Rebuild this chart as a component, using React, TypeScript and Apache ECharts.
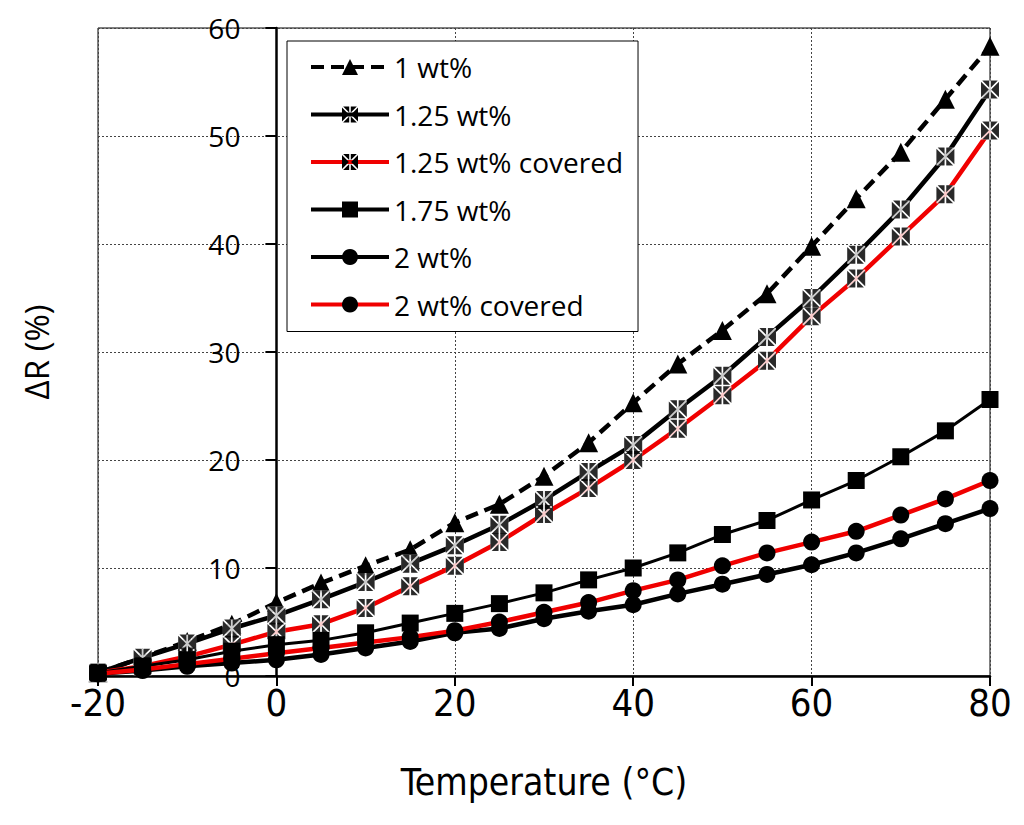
import React, { useRef, useEffect } from "react";
import * as echarts from "echarts";

// 温度 (°C)
const temps = [-20, -15, -10, -5, 0, 5, 10, 15, 20, 25, 30, 35, 40, 45, 50, 55, 60, 65, 70, 75, 80];

// ΔR (%) per series
const wt1 = [0.3, 1.7, 3.2, 4.8, 6.8, 8.6, 10.2, 11.7, 14.2, 15.9, 18.5, 21.6, 25.3, 28.9, 32.0, 35.4, 39.8, 44.2, 48.5, 53.4, 58.3];
const wt125 = [0.3, 1.7, 3.0, 4.4, 5.6, 7.1, 8.7, 10.4, 12.1, 14.0, 16.3, 18.9, 21.4, 24.7, 27.8, 31.4, 35.0, 39.0, 43.2, 48.1, 54.3];
const wt125Covered = [0.3, 0.9, 1.8, 2.9, 4.1, 4.8, 6.3, 8.3, 10.2, 12.4, 15.0, 17.4, 20.0, 22.9, 26.0, 29.2, 33.3, 36.8, 40.7, 44.6, 50.5];
const wt175 = [0.3, 0.9, 1.5, 2.3, 2.9, 3.3, 4.0, 4.9, 5.8, 6.7, 7.7, 8.9, 10.0, 11.4, 13.1, 14.4, 16.3, 18.1, 20.3, 22.7, 25.6];
const wt2 = [0.2, 0.5, 0.9, 1.2, 1.5, 2.0, 2.6, 3.2, 4.0, 4.4, 5.3, 6.0, 6.6, 7.6, 8.5, 9.4, 10.3, 11.4, 12.7, 14.1, 15.5];
const wt2Covered = [0.2, 0.6, 1.1, 1.6, 2.1, 2.6, 3.1, 3.6, 4.2, 5.0, 5.9, 6.8, 7.9, 8.9, 10.2, 11.4, 12.4, 13.4, 14.9, 16.4, 18.1];

const seriesNames = ["1 wt%", "1.25 wt%", "1.25 wt% covered", "1.75 wt%", "2 wt%", "2 wt% covered"];

// 方块内白色米字的标记 (6 black wedges, gaps are the arms)
const STAR_BOX =
  "path://M0,7L0,93L43,50Z M100,7L100,93L57,50Z M7,0L45,0L45,38Z M55,0L93,0L55,38Z M7,100L45,100L45,62Z M55,100L93,100L55,62Z";

const RED = "#f00000";
const NARROW = "'Liberation Sans Narrow', 'DejaVu Sans Condensed', 'Liberation Sans', sans-serif";
const pts = (vals: number[]) => temps.map((t, i) => [t, vals[i]]);

// grid edges in px; the y axis sits on x = 0
const GRID_LEFT = 98;
const GRID_RIGHT = 34;
const X_MIN = -20;
const X_MAX = 80;
const Y_AXIS_SHIFT = ((0 - X_MIN) / (X_MAX - X_MIN)) * (1024 - GRID_LEFT - GRID_RIGHT);

const App: React.FC = () => {
  const ref = useRef<HTMLDivElement>(null);

  useEffect(() => {
    document.body.style.margin = "0";
    if (!ref.current) return;
    const chart = echarts.init(ref.current, null, { renderer: "svg" });

    const lineBase = (name: string, data: number[], color: string, width: number, symbol: string, z: number, dashed = false) => ({
      name,
      type: "line",
      data: pts(data),
      z,
      symbol,
      symbolSize: symbol === "triangle" ? 19 : 17,
      lineStyle: { color, width, type: dashed ? [13, 7] : "solid" },
      itemStyle: { color: "#000", borderWidth: 0 },
    });

    const overlay = (data: number[], symbol: string, color: string, z: number) => ({
      type: "scatter",
      data: pts(data),
      symbol,
      symbolSize: 18,
      z,
      silent: true,
      itemStyle: { color },
    });

    chart.setOption({
      animation: false,
      grid: {
        left: GRID_LEFT,
        right: GRID_RIGHT,
        top: 28,
        bottom: 149,
        containLabel: false,
        outerBoundsMode: "none",
        show: true,
        borderColor: "#000",
        borderWidth: 1,
      },
      legend: {
        data: seriesNames,
        orient: "vertical",
        left: 287,
        top: 41,
        backgroundColor: "#fff",
        borderColor: "#000",
        borderWidth: 1,
        borderRadius: 0,
        padding: [11, 15, 12, 22],
        itemWidth: 78,
        itemHeight: 20,
        itemGap: 17.5,
        lineStyle: { width: 4 },
        textStyle: { fontFamily: "Open Sans", fontSize: 28, lineHeight: 30, color: "#000" },
      },
      xAxis: {
        type: "value",
        min: X_MIN,
        max: X_MAX,
        interval: 20,
        name: "Temperature (°C)",
        nameLocation: "middle",
        nameGap: 88,
        nameTextStyle: { fontFamily: NARROW, fontSize: 37, color: "#000" },
        axisLine: { lineStyle: { color: "#000", width: 2.5 } },
        axisTick: { length: 10, lineStyle: { color: "#000", width: 2 } },
        axisLabel: { fontFamily: NARROW, fontSize: 38, color: "#000", margin: 8 },
        splitLine: { show: true, lineStyle: { color: "#444", type: [2, 2], width: 1 } },
      },
      yAxis: {
        type: "value",
        min: 0,
        max: 60,
        interval: 10,
        offset: -Y_AXIS_SHIFT,
        name: "ΔR (%)",
        nameLocation: "middle",
        nameGap: 223,
        nameTextStyle: { fontFamily: "Open Sans", fontSize: 33, color: "#000" },
        axisLine: { onZero: false, lineStyle: { color: "#000", width: 2.5 } },
        axisTick: { length: 11, lineStyle: { color: "#000", width: 2 } },
        axisLabel: { fontFamily: "Open Sans", fontSize: 28, color: "#000", margin: 36 },
        splitLine: { show: true, lineStyle: { color: "#444", type: [2, 2], width: 1 } },
      },
      series: [
        lineBase("1 wt%", wt1, "#000", 4.5, "triangle", 2, true),
        lineBase("1.25 wt%", wt125, "#000", 4.5, STAR_BOX, 2),
        lineBase("1.25 wt% covered", wt125Covered, RED, 4.5, STAR_BOX, 2),
        // white backing + black wedges so the star shows white over the lines
        overlay(wt125, "rect", "#fff", 3),
        overlay(wt125Covered, "rect", "#fff", 3),
        overlay(wt125, STAR_BOX, "#000", 4),
        overlay(wt125Covered, STAR_BOX, "#000", 4),
        lineBase("1.75 wt%", wt175, "#000", 3, "rect", 5),
        lineBase("2 wt%", wt2, "#000", 4.5, "circle", 5),
        lineBase("2 wt% covered", wt2Covered, RED, 4.5, "circle", 5),
      ],
    });

    return () => chart.dispose();
  }, []);

  return <div ref={ref} style={{ width: 1024, height: 825 }} />;
};

export default App;
